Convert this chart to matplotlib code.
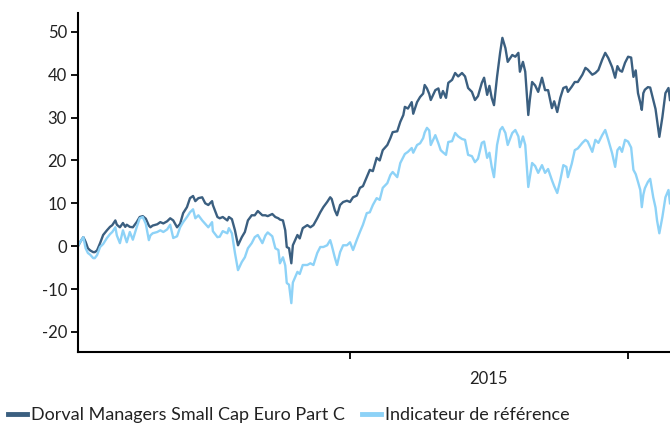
import matplotlib
matplotlib.use("Agg")
import matplotlib.pyplot as plt
import pandas as pd

plt.rcParams['font.family'] = ['Lato', 'DejaVu Sans']

dates = [
    "2014-01-09", "2014-01-12", "2014-01-16", "2014-01-19", "2014-01-22", "2014-01-25", "2014-01-29", "2014-01-31",
    "2014-02-03", "2014-02-07", "2014-02-11", "2014-02-16", "2014-02-20", "2014-02-23", "2014-02-27", "2014-03-01",
    "2014-03-05", "2014-03-09", "2014-03-12", "2014-03-14", "2014-03-18", "2014-03-22", "2014-03-27", "2014-03-31",
    "2014-04-04", "2014-04-08", "2014-04-12", "2014-04-14", "2014-04-17", "2014-04-23", "2014-04-27", "2014-05-01",
    "2014-05-06", "2014-05-10", "2014-05-14", "2014-05-19", "2014-05-23", "2014-05-27", "2014-06-01", "2014-06-05",
    "2014-06-09", "2014-06-12", "2014-06-16", "2014-06-21", "2014-06-25", "2014-06-29", "2014-07-04", "2014-07-05",
    "2014-07-11", "2014-07-14", "2014-07-18", "2014-07-24", "2014-07-26", "2014-07-30", "2014-08-03", "2014-08-07",
    "2014-08-12", "2014-08-16", "2014-08-20", "2014-08-25", "2014-08-29", "2014-09-02", "2014-09-08", "2014-09-12",
    "2014-09-15", "2014-09-21", "2014-09-25", "2014-09-29", "2014-10-01", "2014-10-05", "2014-10-08", "2014-10-10",
    "2014-10-13", "2014-10-16", "2014-10-18", "2014-10-24", "2014-10-27", "2014-10-31", "2014-11-06", "2014-11-10",
    "2014-11-14", "2014-11-19", "2014-11-23", "2014-11-27", "2014-12-02", "2014-12-06", "2014-12-08", "2014-12-12",
    "2014-12-15", "2014-12-19", "2014-12-23", "2014-12-28",
    "2015-01-01", "2015-01-05", "2015-01-10", "2015-01-14", "2015-01-18", "2015-01-23", "2015-01-27", "2015-01-31",
    "2015-02-05", "2015-02-09", "2015-02-13", "2015-02-19", "2015-02-23", "2015-02-26", "2015-03-04", "2015-03-08",
    "2015-03-12", "2015-03-14", "2015-03-18", "2015-03-23", "2015-03-25", "2015-03-30", "2015-04-03", "2015-04-07",
    "2015-04-09", "2015-04-12", "2015-04-15", "2015-04-17", "2015-04-23", "2015-04-27", "2015-04-30", "2015-05-03",
    "2015-05-07", "2015-05-10", "2015-05-15", "2015-05-19", "2015-05-23", "2015-05-28", "2015-06-01", "2015-06-05",
    "2015-06-10", "2015-06-14", "2015-06-18", "2015-06-23", "2015-06-26", "2015-06-30", "2015-07-03", "2015-07-06",
    "2015-07-09", "2015-07-13", "2015-07-17", "2015-07-20", "2015-07-24", "2015-07-27", "2015-08-02", "2015-08-06",
    "2015-08-10", "2015-08-12", "2015-08-16", "2015-08-19", "2015-08-23", "2015-08-25", "2015-08-28", "2015-09-01",
    "2015-09-05", "2015-09-10", "2015-09-14", "2015-09-18", "2015-09-23", "2015-09-26", "2015-09-30", "2015-10-04",
    "2015-10-08", "2015-10-12", "2015-10-14", "2015-10-19", "2015-10-23", "2015-10-27", "2015-11-02", "2015-11-06",
    "2015-11-09", "2015-11-15", "2015-11-19", "2015-11-23", "2015-11-28", "2015-12-02", "2015-12-06", "2015-12-11",
    "2015-12-15", "2015-12-18", "2015-12-21", "2015-12-24", "2015-12-28",
    "2016-01-01", "2016-01-05", "2016-01-08", "2016-01-11", "2016-01-14", "2016-01-17", "2016-01-19", "2016-01-21",
    "2016-01-23", "2016-01-27", "2016-01-30", "2016-02-03", "2016-02-06", "2016-02-08", "2016-02-11", "2016-02-15",
    "2016-02-19", "2016-02-23", "2016-02-25",
]

fund = [
    0.0, 1.0, 2.1, 1.0, -0.5, -1.0, -1.4, -1.4,
    -1.0, 0.7, 2.6, 3.7, 4.5, 4.9, 6.0, 5.0,
    4.4, 5.4, 4.5, 5.0, 4.5, 4.4, 5.6, 6.8,
    7.0, 6.4, 4.8, 4.4, 4.8, 5.1, 5.6, 5.3,
    5.8, 6.5, 6.0, 4.4, 5.2, 7.7, 9.1, 11.2,
    11.7, 10.5, 11.2, 11.4, 10.0, 9.6, 10.5, 9.6,
    6.8, 6.5, 6.8, 6.0, 6.8, 6.3, 3.7, 0.2,
    2.1, 3.3, 6.0, 7.2, 7.2, 8.2, 7.2, 7.2,
    7.0, 7.5, 6.8, 6.5, 6.2, 6.0, 3.7, -0.2,
    -0.5, -4.0, 0.2, 2.6, 1.8, 4.2, 4.9, 4.4,
    4.9, 6.5, 7.9, 9.1, 10.3, 11.4, 11.0, 8.4,
    7.2, 9.6, 10.3, 10.6,
    10.3, 11.4, 11.8, 13.6, 14.0, 16.1, 17.8, 17.5,
    20.6, 20.0, 22.4, 23.6, 25.2, 26.6, 26.8, 29.0,
    30.6, 32.5, 32.1, 33.6, 30.9, 33.6, 34.8, 35.6,
    37.6, 36.8, 35.5, 34.1, 36.4, 36.8, 34.6, 36.2,
    34.6, 38.1, 38.8, 40.4, 39.6, 40.4, 39.6, 36.9,
    36.0, 34.1, 35.0, 38.1, 39.3, 35.3, 37.4, 34.6,
    32.9, 39.5, 45.1, 48.6, 46.2, 43.0, 44.6, 44.2,
    45.1, 40.7, 43.0, 40.7, 30.6, 34.1, 38.3, 37.5,
    36.0, 39.3, 36.4, 36.4, 32.2, 33.8, 31.3, 34.6,
    36.9, 37.2, 36.0, 37.2, 38.3, 38.3, 40.0, 41.6,
    41.2, 40.0, 40.4, 41.1, 43.5, 45.1, 43.9, 41.8,
    39.3, 42.0, 41.0, 40.7, 42.8,
    44.2, 44.0, 39.5, 41.0, 35.7, 33.5, 31.8, 35.7,
    36.5, 37.1, 37.0, 34.1, 32.0, 29.4, 25.5, 30.1,
    35.7, 36.9, 34.1,
]

benchmark = [
    0.0, 1.0, 2.1, -0.5, -1.6, -2.0, -2.8, -2.8,
    -2.1, -0.2, 0.5, 1.9, 2.8, 3.3, 4.4, 2.5,
    0.7, 3.7, 2.0, 0.9, 3.3, 1.5, 4.4, 6.5,
    6.8, 5.2, 1.4, 2.5, 3.0, 3.3, 3.7, 3.3,
    3.9, 5.0, 1.9, 2.3, 4.4, 5.6, 6.8, 7.9,
    8.6, 6.5, 7.2, 6.0, 5.2, 4.4, 5.6, 3.5,
    2.1, 2.2, 3.5, 3.0, 4.2, 3.0, -1.6, -5.6,
    -3.7, -2.6, -0.5, 0.7, 2.1, 2.6, 0.7, 2.5,
    3.2, 2.3, -0.5, -0.9, -4.0, -2.6, -4.5, -8.6,
    -9.0, -13.3, -8.5, -6.0, -6.5, -4.4, -4.4, -4.0,
    -4.4, -1.6, -0.2, -0.2, 0.2, 1.4, 0.2, -2.6,
    -4.4, -1.4, 0.2, 0.2,
    0.9, -0.9, 1.5, 3.3, 5.0, 7.7, 7.9, 9.6,
    11.2, 10.8, 13.6, 14.7, 16.6, 17.3, 16.1, 19.4,
    20.8, 21.5, 22.0, 22.9, 21.8, 23.6, 24.0, 25.2,
    26.5, 27.6, 27.0, 23.6, 25.9, 24.0, 22.4, 21.9,
    21.3, 24.3, 24.5, 26.4, 25.6, 25.0, 24.8, 21.3,
    21.0, 19.6, 20.4, 24.1, 24.4, 20.6, 21.8, 18.5,
    16.1, 23.6, 27.1, 27.8, 26.4, 23.6, 26.4, 27.1,
    25.6, 23.1, 25.6, 23.6, 13.8, 16.1, 19.4, 18.7,
    17.1, 18.9, 17.1, 18.0, 15.4, 14.0, 12.4, 15.4,
    18.9, 18.5, 16.1, 19.2, 22.4, 22.8, 24.1, 24.8,
    24.4, 22.0, 24.8, 24.1, 25.9, 27.1, 24.8, 21.7,
    18.5, 22.4, 23.1, 22.0, 24.8,
    24.4, 23.0, 17.8, 16.8, 15.0, 13.1, 9.1, 12.0,
    13.5, 15.0, 15.7, 11.4, 9.0, 6.0, 3.0, 6.8,
    11.4, 13.1, 10.0,
]

series_names = ["Dorval Managers Small Cap Euro Part C", "Indicateur de référence"]
colors = ["#3b5f80", "#8dd2f7"]
y_ticks = [-20, -10, 0, 10, 20, 30, 40, 50]
year_label = "2015"

x = pd.to_datetime(dates)

fig = plt.figure(figsize=(6.7, 4.24), dpi=100)
ax = fig.add_axes([78 / 670, 1 - 352 / 424, 1 - 78 / 670, (352 - 13) / 424])

ax.plot(x, fund, color=colors[0], lw=1.7, label=series_names[0])
ax.plot(x, benchmark, color=colors[1], lw=1.7, label=series_names[1])

ax.set_xlim(pd.Timestamp("2014-01-09"), pd.Timestamp("2016-02-25"))
ax.set_ylim(-24.7, 54.4)
ax.set_yticks(y_ticks)
ax.set_yticklabels([str(v) for v in y_ticks])

ax.set_xticks([pd.Timestamp("2015-01-01"), pd.Timestamp("2016-01-01")])
ax.set_xticklabels([])
ax.set_xticks([pd.Timestamp("2015-07-02")], minor=True)
ax.set_xticklabels([year_label], minor=True)
ax.tick_params(axis='x', which='minor', length=0, pad=14, labelsize=12, colors='#222222')
ax.tick_params(axis='x', which='major', length=5, width=1.3, direction='out', color='black')
ax.tick_params(axis='y', length=5, width=1.3, direction='out', labelsize=12, pad=3, colors='black', labelcolor='#222222')

for s in ['top', 'right']:
    ax.spines[s].set_visible(False)
for s in ['left', 'bottom']:
    ax.spines[s].set_linewidth(1.5)
    ax.spines[s].set_color('black')

leg = fig.legend(loc='center left', bbox_to_anchor=(8 / 670, 1 - 415 / 424), ncol=2, frameon=False,
                 fontsize=13, handlelength=1.05, handletextpad=0.22, columnspacing=0.95,
                 borderaxespad=0.0, borderpad=0.0)
for h in leg.legend_handles:
    h.set_linewidth(3.5)
for t in leg.get_texts():
    t.set_color('#222222')

fig.savefig("out.png", dpi=100)
